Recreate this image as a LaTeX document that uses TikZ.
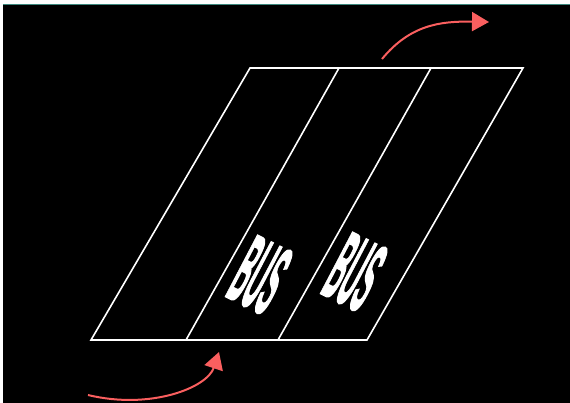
\documentclass[tikz,border=0pt]{standalone}
\usepackage{fontspec}
\newfontfamily\busfont{Liberation Sans}[BoldFont={Liberation Sans Bold}, BoldFeatures={FakeBold=2.5}]
\usetikzlibrary{arrows.meta}
\definecolor{busred}{RGB}{250,95,95}
\definecolor{frameteal}{RGB}{60,135,125}

\begin{document}
\begin{tikzpicture}[
    x=0.5pt, y=-0.5pt,
    lane/.style   ={draw=white, line width=0.8pt},
    flow/.style   ={-{Triangle[length=8.5pt,width=9.5pt]}, line width=1pt, draw=busred},
    marking/.style={text=white, font=\busfont\bfseries, inner sep=0pt,
                    transform shape, cm={0.95,-0.47,2.3,4.4,(0,0)}}
]

% Canvas: thin white margin, teal rule on top, black field
\useasboundingbox (0,0) rectangle (570,403);
\fill[white] (0,0) rectangle (570,403);
\fill[black] (3,5) rectangle (570,403);
\draw[frameteal, line width=0.6pt] (3,4.5) -- (570,4.5);

% Road section with three lanes
\coordinate (bl) at (91,340);
\coordinate (br) at (367,340);
\coordinate (tr) at (523,68);
\coordinate (tl) at (250,68);
\draw[lane] (bl) -- (br) -- (tr) -- (tl) -- cycle;
\draw[lane] (186,340) -- (339,68);
\draw[lane] (278,340) -- (431,68);

% Lane markings
\begin{scope}[shift={(260,275)}]
  \node[marking] (bus1) at (0,0) {BUS};
\end{scope}
\begin{scope}[shift={(355,272)}]
  \node[marking] (bus2) at (0,0) {BUS};
\end{scope}

% Traffic direction: in at the bottom, out at the top
\coordinate (inS)  at (88,395);
\coordinate (inE)  at (219,352);
\coordinate (outS) at (382,59);
\coordinate (outE) at (489,22);
\draw[flow] (inS) .. controls (150,410) and (207,388) .. (inE);
\draw[flow] (outS) .. controls (410,25) and (440,21) .. (outE);

\end{tikzpicture}
\end{document}
